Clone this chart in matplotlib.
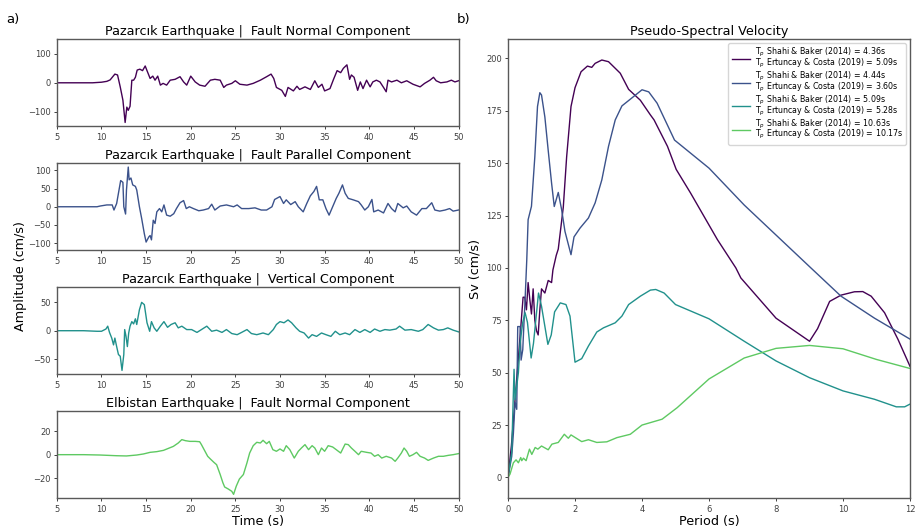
import numpy as np
import matplotlib
matplotlib.use("Agg")
import matplotlib.pyplot as plt

# Velocity time histories (time in s, amplitude in cm/s)
fn_t = [5, 9.0, 10.0, 10.6, 10.97, 11.5, 11.8, 12.1, 12.4, 12.65, 12.84, 13.0, 13.2, 13.4, 13.6, 13.8,
        14.0, 14.3, 14.6, 14.9, 15.1, 15.45, 15.75, 16.0, 16.3, 16.6, 16.9, 17.3, 17.7, 18.25,
        18.8, 19.2, 19.55, 20.0, 20.5, 21.0, 21.6, 22.2, 22.7, 23.3, 23.7, 24.0, 24.6, 25.0,
        25.5, 26.3, 27.0, 27.8, 28.5, 29.0, 29.3, 29.6, 30.2, 30.6, 30.9, 31.5, 31.9, 32.2,
        32.8, 33.4, 33.9, 34.3, 34.7, 35.0, 35.6, 36.0, 36.4, 36.8, 37.1, 37.5, 37.8, 38.0,
        38.3, 38.7, 39.0, 39.3, 39.7, 40.1, 40.4, 40.8, 41.2, 41.6, 41.9, 42.1, 42.5, 43.1,
        43.6, 44.2, 44.9, 45.7, 46.2, 46.8, 47.2, 47.5, 48.0, 48.7, 49.2, 49.6, 50]
fn_v = [0, 0, 2, 5, 10, 30, 27, -14, -60, -137, -84, -95, -81, 9, 9, 19,
        44, 47, 42, 58, 42, 15, 23, 9, 23, -8, -2, -8, 9, 12,
        21, 3, -8, 23, 3, -8, -12, 9, 12, 9, -16, -8, -2, 7,
        -5, -8, -2, 9, 21, 30, 15, -16, -26, -47, -16, -28, -12, -23,
        -14, -23, 7, -16, -5, -28, -20, 12, 42, 35, 50, 62, 12, 27,
        19, -26, 3, -20, 9, -14, 3, 9, 3, -16, -31, 9, 3, 9,
        0, 7, -5, -14, -2, 9, 19, 7, 0, 3, 9, 3, 7]

fp_t = [5, 9.5, 9.85, 10.6, 11.2, 11.4, 11.7, 11.9, 12.15, 12.4, 12.5, 12.7, 12.8, 13.0, 13.1, 13.3,
        13.5, 13.8, 13.95, 14.25, 14.5, 14.8, 15.0, 15.3, 15.45, 15.6, 15.8, 16.0, 16.2, 16.5,
        16.75, 17.0, 17.3, 17.7, 18.1, 18.4, 18.8, 19.2, 19.5, 19.85, 20.3, 20.9, 21.4, 22.0,
        22.35, 22.7, 23.3, 24.0, 24.8, 25.2, 25.7, 26.5, 27.2, 27.9, 28.5, 29.1, 29.4, 30.0,
        30.4, 30.7, 31.2, 31.7, 32.05, 32.6, 33.0, 33.4, 33.8, 34.1, 34.4, 34.8, 35.15, 35.5,
        35.9, 36.3, 36.6, 37.0, 37.3, 37.65, 38.2, 38.8, 39.1, 39.5, 39.9, 40.3, 40.5, 41.0,
        41.6, 42.1, 42.5, 42.9, 43.2, 43.8, 44.2, 44.7, 45.3, 45.9, 46.4, 47.0, 47.35, 47.9,
        48.5, 49.0, 49.4, 50]
fp_v = [0, 0, 2, 5, 5, -9, 9, 37, 72, 67, 0, -20, 46, 109, 74, 79,
        60, 56, 46, 0, -32, -74, -97, -83, -79, -91, -37, -46, -14, -5,
        -14, 5, -23, -26, -19, -5, 11, 17, -5, 0, -5, -11, -9, -5,
        7, -9, 2, 5, 0, 5, -5, -5, -3, -9, -9, 0, 20, 28,
        9, 19, 6, 14, 0, -14, 9, 30, 42, 56, 19, 19, -5, -23,
        0, 23, 37, 60, 37, 23, 19, 14, 5, -9, 0, 20, -14, -9,
        -17, 9, -5, -14, 9, -3, 2, -14, -23, -5, -5, 11, -9, -12,
        -9, -5, -12, -9]

vt_t = [5, 8.0, 9.5, 10.0, 10.5, 10.7, 10.9, 11.15, 11.35, 11.5, 11.7, 11.9, 12.1, 12.3, 12.5, 12.6,
        12.75, 12.9, 13.05, 13.2, 13.4, 13.6, 13.8, 13.95, 14.25, 14.5, 14.8, 15.1, 15.4, 15.6,
        15.9, 16.2, 16.6, 17.0, 17.4, 17.8, 18.25, 18.6, 19.0, 19.55, 20.1, 20.7, 21.2, 21.8,
        22.35, 22.9, 23.5, 24.0, 24.6, 25.2, 25.7, 26.3, 26.8, 27.4, 28.1, 28.7, 29.25, 29.6,
        30.0, 30.45, 30.9, 31.3, 31.8, 32.2, 32.7, 33.2, 33.6, 34.1, 34.65, 35.15, 35.7, 36.2,
        36.7, 37.3, 37.8, 38.4, 38.95, 39.5, 40.1, 40.6, 41.2, 41.75, 42.3, 43.0, 43.4, 44.0,
        44.7, 45.5, 46.0, 46.6, 47.2, 47.75, 48.3, 48.8, 49.4, 50]
vt_v = [0, 0, -1, -1, 3, 8, -3, -13, -25, -13, -28, -42, -45, -70, -42, 2,
        -10, -28, -4, 8, 16, 12, 21, 11, 37, 50, 46, 14, -1, 16,
        5, -1, 8, 16, 6, 11, 14, 5, 8, 2, 2, -3, 2, 8,
        -1, 1, -3, 2, -5, -7, -3, 2, -5, -7, -4, -7, 2, 11,
        16, 14, 19, 14, 5, -1, -4, -13, -7, -10, -4, -7, -10, -1,
        -7, -4, -7, 2, -3, 2, -3, 3, -1, 2, 1, 3, 8, 1,
        2, -1, 2, 11, 5, 1, 2, 5, 1, -2]

el_t = [5, 8.0, 9.85, 11.7, 12.8, 13.95, 14.7, 15.45, 16.2, 16.95, 17.5, 18.05, 18.6, 19.0, 19.4, 19.9,
        20.5, 21.0, 21.2, 21.5, 21.9, 22.2, 22.6, 22.9, 23.3, 23.6, 23.8, 24.2, 24.6, 24.8,
        25.1, 25.45, 25.9, 26.3, 26.6, 27.0, 27.4, 27.8, 28.1, 28.5, 28.8, 29.2, 29.6, 30.0,
        30.4, 30.7, 31.1, 31.6, 32.05, 32.4, 32.8, 33.2, 33.6, 33.9, 34.3, 34.65, 35.0, 35.4,
        35.9, 36.3, 36.8, 37.3, 37.65, 38.0, 38.4, 38.8, 39.1, 39.7, 40.2, 40.6, 41.0, 41.4,
        41.9, 42.5, 42.9, 43.2, 43.6, 43.9, 44.2, 44.5, 44.9, 45.3, 45.7, 46.2, 46.6, 47.2,
        47.75, 48.3, 48.85, 49.4, 50]
el_v = [0, 0, -0.3, -0.9, -1.1, -0.3, 0.6, 2, 2.6, 3.7, 5.4, 7.1, 10, 12.9, 12, 11.4,
        11.4, 11.1, 8.6, 4.3, -1.4, -3.7, -6.6, -8.6, -17, -24, -27.7, -29.4, -31.4, -34,
        -27, -20.9, -17, -7, 1.4, 7.7, 10.6, 10, 12.3, 9.4, 11.4, 4.3, 2.9, 4.9,
        2.9, 7.7, 4.3, -2.9, 2.9, 5.7, 8.6, 4.3, 7.7, 5.7, 0, 5.7, 2.9, 7.7,
        6.6, 4.3, 1.4, 9.1, 8.6, 5.7, 2.9, 0, 2.9, 2, 1.4, -1.4, 0, -2.9,
        -1.4, -2.9, -5.7, -2.9, 1.4, 5.7, 2.9, -1.4, 0, 2, -1.4, -2.9, -4.9, -2.9,
        -1.4, -1.4, -0.6, 0, 0.9]

# Pseudo-spectral velocity (period in s, Sv in cm/s)
p1_T = [0, 0.1, 0.2, 0.3, 0.45, 0.5, 0.55, 0.6, 0.65, 0.7, 0.75, 0.8, 0.85, 0.9, 0.95, 1.0,
        1.1, 1.2, 1.3, 1.34, 1.44, 1.5, 1.65, 1.75, 1.88, 2.0, 2.18, 2.37, 2.5, 2.6, 2.8, 3.0,
        3.35, 3.6, 3.95, 4.25, 4.36, 4.76, 5.02, 5.45, 5.85, 6.25, 6.8, 6.95, 8.0, 9.0, 9.24,
        9.6, 9.94, 10.34, 10.59, 10.84, 11.24, 11.64, 12.0]
p1_S = [0, 15, 35, 55, 86, 86, 80, 93, 85, 78, 90, 75, 70, 68, 80, 90,
        88, 94, 93, 99, 106, 109, 129, 153, 177, 186, 193.6, 196.3, 195.7, 197.6, 199.2, 198.4,
        192.9, 185.2, 180, 173, 170.6, 158, 147, 135.7, 124.6, 113.5, 100, 95.2, 76, 65, 71,
        84, 87, 88.6, 88.7, 86.5, 78.6, 65.9, 53]

p2_T = [0, 0.11, 0.16, 0.21, 0.26, 0.29, 0.36, 0.39, 0.44, 0.48, 0.51, 0.56, 0.6, 0.7, 0.8, 0.88,
        0.95, 1.0, 1.1, 1.2, 1.3, 1.38, 1.5, 1.6, 1.7, 1.88, 1.97, 2.15, 2.4, 2.6, 2.8, 3.0,
        3.2, 3.4, 3.65, 4.0, 4.2, 4.45, 4.97, 6.0, 7.05, 9.04, 9.94, 10.94, 12.0]
p2_S = [0, 10, 21, 36, 32.5, 72, 72, 56, 61, 75, 85, 104, 123, 129.4, 153, 177,
        183.6, 182.5, 172, 156, 140.5, 129.3, 136, 127.8, 117.4, 106.3, 114.8, 119, 123.8, 131, 142, 158,
        170.6, 177.3, 180.5, 185, 184, 178.6, 161, 147.6, 130, 100, 86.5, 76, 66]

p3_T = [0, 0.11, 0.18, 0.21, 0.26, 0.31, 0.36, 0.44, 0.51, 0.58, 0.69, 0.76, 0.91, 1.0, 1.19, 1.29,
        1.39, 1.56, 1.73, 1.85, 2.0, 2.2, 2.4, 2.65, 2.85, 3.2, 3.4, 3.6, 3.95, 4.25, 4.41,
        4.66, 5.0, 6.0, 7.05, 8.0, 9.0, 10.0, 10.94, 11.59, 11.84, 12.0]
p3_S = [0, 12, 51.6, 37, 43.6, 50, 64, 74, 78.6, 74, 57, 64, 88, 81.7, 63.5, 68,
        79, 83.3, 82.5, 77, 55, 56.7, 62.7, 69.4, 71.4, 73.8, 77, 82.5, 86.5, 89.4, 89.7,
        88, 82.5, 75.7, 65, 55.6, 47.6, 41.3, 37.3, 33.7, 33.7, 35]

p4_T = [0, 0.06, 0.16, 0.24, 0.31, 0.38, 0.41, 0.46, 0.54, 0.64, 0.71, 0.81, 0.89, 1.0, 1.2, 1.31,
        1.5, 1.68, 1.8, 1.88, 2.2, 2.4, 2.65, 2.95, 3.25, 3.65, 4.0, 4.6, 5.05, 6.0, 7.05,
        8.0, 9.0, 10.0, 11.0, 12.0]
p4_S = [0, 1.6, 7, 8.4, 7, 9.5, 8, 9.2, 8, 13.5, 11, 14.3, 13.5, 15, 13.2, 15.9,
        16.7, 20.6, 18.7, 20.3, 17.1, 18, 16.7, 17, 19, 20.6, 25, 27.8, 33.3, 47, 57,
        61.6, 63, 61.4, 56.3, 52]

titles = ["Pazarcık Earthquake |  Fault Normal Component",
          "Pazarcık Earthquake |  Fault Parallel Component",
          "Pazarcık Earthquake |  Vertical Component",
          "Elbistan Earthquake |  Fault Normal Component"]
legend_labels = [
    "T$_p$ Shahi & Baker (2014) = 4.36s\nT$_p$ Ertuncay & Costa (2019) = 5.09s",
    "T$_p$ Shahi & Baker (2014) = 4.44s\nT$_p$ Ertuncay & Costa (2019) = 3.60s",
    "T$_p$ Shahi & Baker (2014) = 5.09s\nT$_p$ Ertuncay & Costa (2019) = 5.28s",
    "T$_p$ Shahi & Baker (2014) = 10.63s\nT$_p$ Ertuncay & Costa (2019) = 10.17s",
]

colors = [plt.cm.viridis(0.0), plt.cm.viridis(0.25), plt.cm.viridis(0.5), plt.cm.viridis(0.75)]
traces = [(fn_t, fn_v), (fp_t, fp_v), (vt_t, vt_v), (el_t, el_v)]
spectra = [(p1_T, p1_S), (p2_T, p2_S), (p3_T, p3_S), (p4_T, p4_S)]

plt.rcParams['axes.edgecolor'] = '0.35'
plt.rcParams['axes.linewidth'] = 1.0
plt.rcParams['xtick.color'] = '0.25'
plt.rcParams['ytick.color'] = '0.25'

fig = plt.figure(figsize=(9.17, 5.29), dpi=100)
gs = fig.add_gridspec(4, 1, left=0.062, right=0.5, top=0.926, bottom=0.058, hspace=0.42)

for i, (t, v) in enumerate(traces):
    ax = fig.add_subplot(gs[i])
    ax.plot(t, v, color=colors[i], lw=1.0)
    lim = 1.1 * np.max(np.abs(v))
    ax.set_ylim(-lim, lim)
    ax.set_xlim(5, 50)
    ax.set_xticks(np.arange(5, 51, 5))
    ax.set_title(titles[i], fontsize=9.2, pad=3)
    ax.tick_params(labelsize=6, length=2.5, width=0.7, pad=2)
    if i == 3:
        ax.set_xlabel("Time (s)", fontsize=9.2, labelpad=1)

fig.text(0.022, 0.478, "Amplitude (cm/s)", rotation=90, fontsize=9.2, ha="center", va="center")
fig.text(0.007, 0.964, "a)", fontsize=9.5, va="center")
fig.text(0.498, 0.964, "b)", fontsize=9.5, va="center")

ax2 = fig.add_axes([0.554, 0.058, 0.4384, 0.868])
for i, (T, S) in enumerate(spectra):
    ax2.plot(T, S, color=colors[i], lw=1.0, label=legend_labels[i])
ax2.set_xlim(0, 12)
ax2.set_title("Pseudo-Spectral Velocity", fontsize=9.2, pad=3)
ax2.set_xlabel("Period (s)", fontsize=9.2, labelpad=1)
ax2.set_ylabel("Sv (cm/s)", fontsize=9.2, labelpad=3)
ax2.tick_params(labelsize=6, length=2.5, width=0.7, pad=2)
leg = ax2.legend(fontsize=5.7, loc="upper right", handlelength=2.3, labelspacing=0.0,
                 handletextpad=0.6)
for txt in leg.get_texts():
    txt.set_linespacing(0.72)

plt.savefig("out.png", dpi=100)
